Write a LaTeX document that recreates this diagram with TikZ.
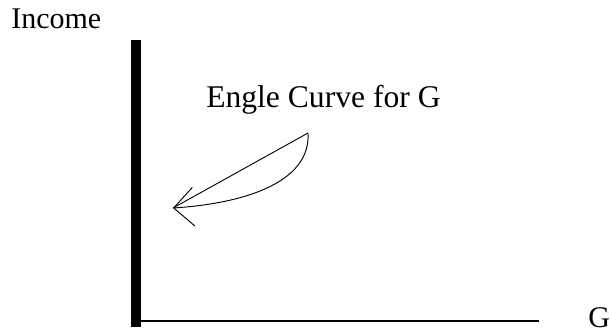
\documentclass[tikz,border=0pt]{standalone}
\usepackage{fontspec}
\setmainfont{Liberation Serif}
\usepackage{tikz}
\usetikzlibrary{arrows.meta,positioning,calc}
\tikzset{
  lbl/.style={font=\fontsize{22.5}{27}\selectfont, inner sep=0pt, anchor=base west},
  titlelbl/.style={lbl, font=\fontsize{23.7}{28}\selectfont},
  yaxis/.style={line width=7.5pt},
  xaxis/.style={line width=0.8pt},
  engel/.style={line width=0.7pt, -{Straight Barb[length=15pt, width=29pt, line width=0.7pt]}},
}

\begin{document}
\begin{tikzpicture}[x=0.75pt, y=-0.75pt]
  \useasboundingbox (0,0) rectangle (610,333);
  % axes
  \coordinate (ytop) at (135.5,40);
  \coordinate (ybot) at (135.5,327);
  \coordinate (xleft) at (140,321);
  \coordinate (xright) at (539,321);
  \draw[yaxis] (ytop) -- (ybot);
  \draw[xaxis] (xleft) -- (xright);
  \node[lbl] (income) at (11,28) {Income};
  \node[lbl] (glabel) at (588,327) {G};
  % curve
  \node[titlelbl] (title) at (206,107) {Engle Curve for G};
  \coordinate (start) at (308,133);
  \coordinate (tip) at (173,208);
  \draw[line width=0.7pt] (start) -- (tip);
  \draw[engel] (start) .. controls (311,180) and (250,203) .. (tip);
\end{tikzpicture}
\end{document}
